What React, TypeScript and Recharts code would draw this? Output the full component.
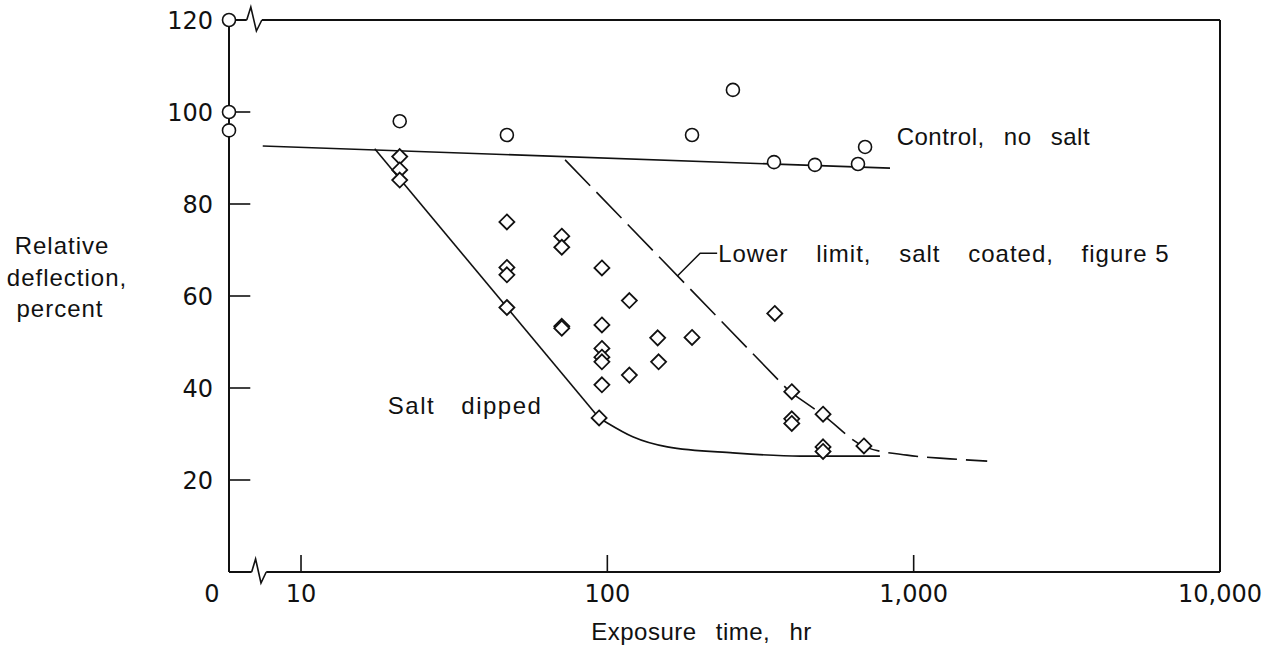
import React from 'react';
import { ComposedChart, Line, Scatter, XAxis, YAxis, ReferenceLine, ReferenceDot } from 'recharts';

// the broken log axis puts "0 hr" here (left edge of the plot)
const ZERO_POS = 5.82;

const X_TICKS = [10, 100, 1000, 10000];
const X_TICK_LABELS = ['10', '100', '1,000', '10,000'];
const Y_TICKS = [20, 40, 60, 80, 100, 120];
const Y_INNER_TICKS = [20, 40, 60, 80, 100];
const Y_TICK_END = 6.83; // inward tick length, in hours on the log axis

// circles: control, no salt (0 = plotted on the axis)
const controlHours = [0, 0, 0, 21, 47, 189, 257, 350, 476, 658, 694];
const controlDeflection = [120, 100, 96, 98, 95, 95, 104.8, 89.1, 88.5, 88.7, 92.4];

// diamonds: salt dipped / salt coated specimens
const saltHours = [
  21, 21, 21,
  47, 47, 47, 47,
  71, 71, 71, 71,
  96, 96, 96, 96, 96, 96, 94,
  118, 118,
  146, 147,
  189,
  352,
  400, 400, 400,
  506, 506, 506,
  688,
];
const saltDeflection = [
  90.3, 87.4, 85.2,
  76.1, 66.2, 64.6, 57.5,
  73.0, 70.6, 53.4, 53.0,
  66.1, 53.7, 48.6, 46.7, 45.7, 40.7, 33.5,
  59.0, 42.8,
  50.9, 45.7,
  51.0,
  56.2,
  39.2, 33.3, 32.3,
  34.3, 27.2, 26.2,
  27.4,
];

// drawn curves: straight parts and the bends that follow them
const controlFitHours = [7.5, 837];
const controlFitDeflection = [92.6, 87.8];
const dippedStraightHours = [17.4, 94];
const dippedStraightDeflection = [92.0, 33.5];
const dippedBendHours = [94, 100, 121, 157, 257, 426, 776];
const dippedBendDeflection = [33.5, 32.4, 29.4, 27.2, 25.9, 25.2, 25.2];
const coatedStraightHours = [72.8, 395];
const coatedStraightDeflection = [89.6, 39.1];
const coatedBendHours = [395, 506, 694, 951, 1315, 1738];
const coatedBendDeflection = [39.1, 34.1, 27.2, 25.4, 24.6, 24.1];

// axis breaks (in hours along the log axis)
const BREAK_BOTTOM = [6.9, 7.7];
const BREAK_TOP = [6.65, 7.45];

const INK = '#111';
const DIGIT_FONT = '"DejaVu Sans", sans-serif';
const WORD_FONT = '"Liberation Sans", Arial, sans-serif';

const toPoints = (xs: number[], ys: number[]) =>
  xs.map((x, i) => ({ x: x === 0 ? ZERO_POS : x, y: ys[i] }));

const controlPts = toPoints(controlHours, controlDeflection);
const saltPts = toPoints(saltHours, saltDeflection);
const controlFit = toPoints(controlFitHours, controlFitDeflection);
const dippedStraight = toPoints(dippedStraightHours, dippedStraightDeflection);
const dippedBend = toPoints(dippedBendHours, dippedBendDeflection);
const coatedStraight = toPoints(coatedStraightHours, coatedStraightDeflection);
const coatedBend = toPoints(coatedBendHours, coatedBendDeflection);

const Circle = (p: any) => (
  <circle cx={p.cx} cy={p.cy} r={6.5} fill="#fff" stroke={INK} strokeWidth={1.6} />
);

const Diamond = (p: any) => {
  const r = 7.5;
  const { cx, cy } = p;
  return (
    <polygon
      points={`${cx},${cy - r} ${cx + r},${cy} ${cx},${cy + r} ${cx - r},${cy}`}
      fill="#fff"
      stroke={INK}
      strokeWidth={1.8}
    />
  );
};

const BreakMark = (p: any) => {
  const { x1, y1, x2 } = p;
  const w = x2 - x1;
  return (
    <path
      d={`M${x1},${y1} L${x1 + 0.27 * w},${y1 - 13} L${x1 + 0.64 * w},${y1 + 11} L${x2},${y1}`}
      fill="none"
      stroke={INK}
      strokeWidth={1.6}
    />
  );
};

const XTick = (p: any) => {
  const v = p.payload.value;
  const isZero = v === ZERO_POS;
  const label = isZero ? '0' : X_TICK_LABELS[X_TICKS.indexOf(v)];
  return (
    <text x={p.x + (isZero ? -17 : 0)} y={p.y} dy={17} textAnchor="middle" fill={INK} fontSize={24} fontFamily={DIGIT_FONT}>
      {label}
    </text>
  );
};

const wordStyle = { wordSpacing: '12px', letterSpacing: '0.5px' } as React.CSSProperties;

const XTitle = (p: any) => {
  const vb = p.viewBox || {};
  return (
    <text x={vb.x + vb.width / 2 - 23} y={vb.y + 68} textAnchor="middle" fill={INK} fontSize={24} fontFamily={WORD_FONT} style={wordStyle}>
      Exposure time, hr
    </text>
  );
};

const YTitle = (p: any) => {
  const vb = p.viewBox || {};
  const cx = vb.x - 107;
  const top = vb.y + 234;
  return (
    <text textAnchor="middle" fill={INK} fontSize={24} fontFamily={WORD_FONT} style={{ letterSpacing: '1px' }}>
      <tspan x={cx} y={top}>Relative</tspan>
      <tspan x={cx + 5} y={top + 32}>deflection,</tspan>
      <tspan x={cx - 2} y={top + 63}>percent</tspan>
    </text>
  );
};

// text parts: [wide-spaced words, tight tail]
const TextAt = (text: string, tail: string, style: React.CSSProperties, leader = false) => (p: any) => {
  const { cx, cy } = p;
  return (
    <g>
      {leader && (
        <path d={`M${cx - 1},${cy} L${cx - 18},${cy} L${cx - 41},${cy + 23}`} fill="none" stroke={INK} strokeWidth={1.5} />
      )}
      <text x={cx} y={cy} dy={8.5} fill={INK} fontSize={24} fontFamily={WORD_FONT} style={style}>
        {text}
        {tail && <tspan style={{ wordSpacing: '0px' }}>{tail}</tspan>}
      </text>
    </g>
  );
};

const curveProps = {
  dataKey: 'y',
  stroke: INK,
  strokeWidth: 1.6,
  dot: false,
  activeDot: false,
  isAnimationActive: false,
} as const;

export default function App() {
  return (
    <div style={{ position: 'absolute', left: 0, top: 0, width: 1267, height: 645, background: '#fff' }}>
      <ComposedChart width={1267} height={645} margin={{ top: 20, right: 47, bottom: 43, left: 169 }}>
        <XAxis
          type="number"
          dataKey="x"
          scale="log"
          domain={[ZERO_POS, 10000]}
          ticks={[ZERO_POS, ...X_TICKS]}
          interval={0}
          axisLine={false}
          tickSize={-17}
          tickMargin={30}
          tickLine={{ stroke: INK, strokeWidth: 1.6 }}
          tick={(p: any) => <XTick {...p} />}
          height={30}
          label={{ content: XTitle }}
        />
        <YAxis
          type="number"
          dataKey="y"
          domain={[0, 120]}
          ticks={Y_TICKS}
          interval={0}
          width={60}
          axisLine={{ stroke: INK, strokeWidth: 2 }}
          tickSize={-20}
          tickMargin={36}
          tickLine={false}
          tick={{ fill: INK, fontSize: 24, fontFamily: DIGIT_FONT }}
          label={{ content: YTitle }}
        />

        {/* frame: broken bottom axis, broken top line, right border */}
        <ReferenceLine segment={[{ x: ZERO_POS, y: 0 }, { x: BREAK_BOTTOM[0], y: 0 }]} stroke={INK} strokeWidth={2} ifOverflow="visible" />
        <ReferenceLine segment={[{ x: BREAK_BOTTOM[0], y: 0 }, { x: BREAK_BOTTOM[1], y: 0 }]} shape={BreakMark} ifOverflow="visible" />
        <ReferenceLine segment={[{ x: BREAK_BOTTOM[1], y: 0 }, { x: 10000, y: 0 }]} stroke={INK} strokeWidth={2} ifOverflow="visible" />
        <ReferenceLine segment={[{ x: ZERO_POS, y: 120 }, { x: BREAK_TOP[0], y: 120 }]} stroke={INK} strokeWidth={2} ifOverflow="visible" />
        <ReferenceLine segment={[{ x: BREAK_TOP[0], y: 120 }, { x: BREAK_TOP[1], y: 120 }]} shape={BreakMark} ifOverflow="visible" />
        <ReferenceLine segment={[{ x: BREAK_TOP[1], y: 120 }, { x: 10000, y: 120 }]} stroke={INK} strokeWidth={2} ifOverflow="visible" />
        <ReferenceLine x={10000} stroke={INK} strokeWidth={2} ifOverflow="visible" />
        {Y_INNER_TICKS.map((v) => (
          <ReferenceLine key={v} segment={[{ x: ZERO_POS, y: v }, { x: Y_TICK_END, y: v }]} stroke={INK} strokeWidth={1.6} ifOverflow="visible" />
        ))}

        <Line data={controlFit} type="linear" {...curveProps} />
        <Line data={dippedStraight} type="linear" {...curveProps} />
        <Line data={dippedBend} type="monotone" {...curveProps} />
        <Line data={coatedStraight} type="linear" {...curveProps} strokeDasharray="36 9" />
        <Line data={coatedBend} type="monotone" {...curveProps} strokeDasharray="30 9" />

        <Scatter data={saltPts} dataKey="y" shape={Diamond} isAnimationActive={false} />
        <Scatter data={controlPts} dataKey="y" shape={Circle} isAnimationActive={false} />

        <ReferenceDot x={880} y={94.6} r={1} shape={TextAt('Control, no salt', '', wordStyle)} ifOverflow="visible" />
        <ReferenceDot
          x={230}
          y={69.3}
          r={1}
          shape={TextAt('Lower limit, salt coated, ', 'figure 5', { wordSpacing: '20px', letterSpacing: '1px' }, true)}
          ifOverflow="visible"
        />
        <ReferenceDot
          x={19.2}
          y={36.3}
          r={1}
          shape={TextAt('Salt dipped', '', { wordSpacing: '18px', letterSpacing: '1.5px' })}
          ifOverflow="visible"
        />
      </ComposedChart>
    </div>
  );
}
